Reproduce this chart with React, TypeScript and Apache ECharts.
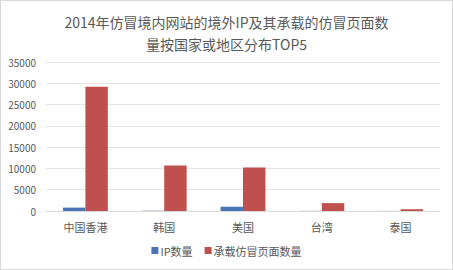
import React, { useEffect, useRef } from "react";
import * as echarts from "echarts";

const categories = ["中国香港", "韩国", "美国", "台湾", "泰国"];
const ipCounts = [800, 60, 1000, 30, 20];
const pageCounts = [29200, 10700, 10200, 1850, 420];
const seriesNames = ["IP数量", "承载仿冒页面数量"];
const titleText = "2014年仿冒境内网站的境外IP及其承载的仿冒页面数\n量按国家或地区分布TOP5";

export default function App() {
  const ref = useRef<HTMLDivElement>(null);
  useEffect(() => {
    if (!ref.current) return;
    const chart = echarts.init(ref.current, null, { renderer: "svg" });
    const font = "'Noto Sans CJK SC', 'Noto Sans', sans-serif";
    chart.setOption({
      animation: false,
      backgroundColor: "#ffffff",
      title: {
        text: titleText,
        left: "center",
        top: 5,
        textStyle: { fontSize: 14, fontWeight: "normal", color: "#595959", fontFamily: font, lineHeight: 22 },
      },
      legend: {
        bottom: 8,
        left: "center",
        itemWidth: 7,
        itemHeight: 7,
        itemGap: 12,
        icon: "rect",
        textStyle: { fontSize: 11, color: "#595959", fontFamily: font, padding: [0, 0, 0, -3] },
        data: seriesNames,
      },
      grid: { left: 45, right: 12, top: 61, bottom: 58, containLabel: false },
      xAxis: {
        type: "category",
        data: categories,
        axisLine: { lineStyle: { color: "#d9d9d9" } },
        axisTick: { show: false },
        axisLabel: { fontSize: 11, color: "#595959", fontFamily: font, margin: 10 },
      },
      yAxis: {
        type: "value",
        min: 0,
        max: 35000,
        interval: 5000,
        axisLine: { show: false },
        axisTick: { show: false },
        splitLine: { lineStyle: { color: "#e4e4e4" } },
        axisLabel: {
          fontSize: 10,
          color: "#595959",
          fontFamily: font,
          margin: 10,
          formatter: (v: number) => String(v),
        },
      },
      series: [
        {
          name: seriesNames[0],
          type: "bar",
          data: ipCounts,
          itemStyle: { color: "#4a74b4" },
          barGap: "0%",
          barCategoryGap: "43%",
        },
        {
          name: seriesNames[1],
          type: "bar",
          data: pageCounts,
          itemStyle: { color: "#c0504d" },
          barGap: "0%",
          barCategoryGap: "43%",
        },
      ],
    });
    return () => chart.dispose();
  }, []);
  return (
    <div
      ref={ref}
      style={{
        position: "fixed",
        left: 0,
        top: 0,
        width: 453,
        height: 270,
        boxSizing: "border-box",
        border: "1px solid #d9d9d9",
      }}
    />
  );
}
